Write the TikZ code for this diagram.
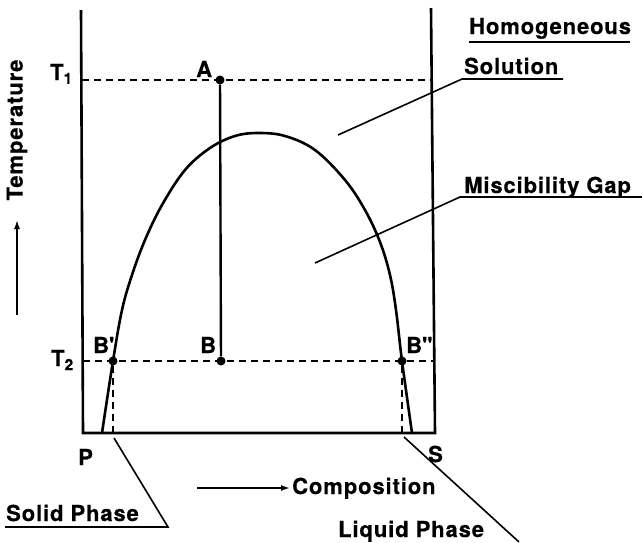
\documentclass[tikz,border=0pt]{standalone}
\usepackage{fontspec}
\usetikzlibrary{arrows.meta}
\newfontfamily\lblfont{TeX Gyre Heros}[LetterSpace=4,BoldFeatures={FakeBold=0.4}]
\begin{document}
\begin{tikzpicture}[x=1pt,y=-1pt,
  frame/.style={line width=2.6pt},
  curveline/.style={line width=2.6pt},
  dashline/.style={line width=2.2pt,dash pattern=on 7pt off 5pt},
  leader/.style={line width=1.6pt},
  dot/.style={circle,fill=black,inner sep=0pt,minimum size=9pt},
  lbl/.style={font=\lblfont\bfseries\fontsize{22}{24}\selectfont,inner sep=0pt,anchor=base west},
]
\fill[white] (0,0) rectangle (642,542);
\useasboundingbox (0,0) rectangle (642,542);
% frame
\coordinate (LT) at (81,10);
\coordinate (LB) at (83,433);
\coordinate (RT) at (431,8);
\coordinate (RB) at (435,433);
\draw[frame] (LT) -- (LB) -- (RB) -- (RT);
% temperature levels
\coordinate (T1L) at (82,80);
\coordinate (T1R) at (432,80);
\coordinate (T2L) at (83,361);
\coordinate (T2R) at (434,361);
\draw[dashline] (T1L) -- (T1R);
\draw[dashline] (T2L) -- (T2R);
\node[dot] (A) at (220,80) {};
\node[dot] (B) at (221,361) {};
\node[dot] (Bp) at (113,361) {};
\node[dot] (Bpp) at (402,361) {};
\draw[line width=2.4pt] (A) -- (B);
\coordinate (BpFoot) at (113,433);
\coordinate (BppFoot) at (402,433);
\draw[dashline] (Bp) -- (BpFoot);
\draw[dashline] (Bpp) -- (BppFoot);
% miscibility curve
\draw[curveline] plot[smooth,tension=0.6] coordinates {
 (102,433) (113,361) (122,310) (132,275) (145,240) (162,205) (185,170) (210,148)
 (235,136) (258,133) (285,136) (315,150) (345,180) (365,210) (380,242) (390,275)
 (396,310) (402,361) (412,433)};
% leaders
\coordinate (solTip) at (338,135);
\coordinate (solKnee) at (462,79);
\coordinate (solEnd) at (563,79);
\draw[leader] (solTip) -- (solKnee) -- (solEnd);
\coordinate (homL) at (469,42);
\coordinate (homR) at (630,42);
\draw[leader] (homL) -- (homR);
\coordinate (misTip) at (315,263);
\coordinate (misKnee) at (460,197);
\coordinate (misEnd) at (642,197);
\draw[leader] (misTip) -- (misKnee) -- (misEnd);
\coordinate (solidTip) at (114,438);
\coordinate (solidKnee) at (168,527);
\coordinate (solidEnd) at (5,527);
\draw[leader] (solidTip) -- (solidKnee) -- (solidEnd);
\coordinate (liqTip) at (404,437);
\coordinate (liqEnd) at (519,542);
\draw[leader] (liqTip) -- (liqEnd);
% labels
\node[lbl] (hom) at (469,34) {Homogeneous};
\node[lbl] (sol) at (464,74) {Solution};
\node[lbl] (mis) at (464,193) {Miscibility Gap};
\node[lbl] (solid) at (6,521) {Solid Phase};
\node[lbl] (liq) at (338,537) {Liquid Phase};
\node[lbl] (comp) at (292,494) {Composition};
\node[lbl] (P) at (78,465) {P};
\node[lbl] (S) at (428,462) {S};
\node[lbl] (T1) at (50,80) {T\textsubscript{1}};
\node[lbl] (T2) at (51,366) {T\textsubscript{2}};
\node[lbl] (Alab) at (196,77) {A};
\node[lbl] (Blab) at (200,353) {B};
\node[lbl] (Bplab) at (93,353) {B\textquotesingle};
\node[lbl] (Bpplab) at (406,353) {B\textquotesingle\textquotesingle};
\node[lbl,anchor=center,rotate=90] (temp) at (17,130) {Temperature};
% axis arrows
\coordinate (tempArrB) at (17,315);
\coordinate (tempArrT) at (17,220);
\draw[leader,-{Latex[length=9pt,width=6pt]}] (tempArrB) -- (tempArrT);
\coordinate (compArrL) at (197,488);
\coordinate (compArrR) at (290,488);
\draw[leader,-{Latex[length=9pt,width=6pt]}] (compArrL) -- (compArrR);
\end{tikzpicture}
\end{document}
